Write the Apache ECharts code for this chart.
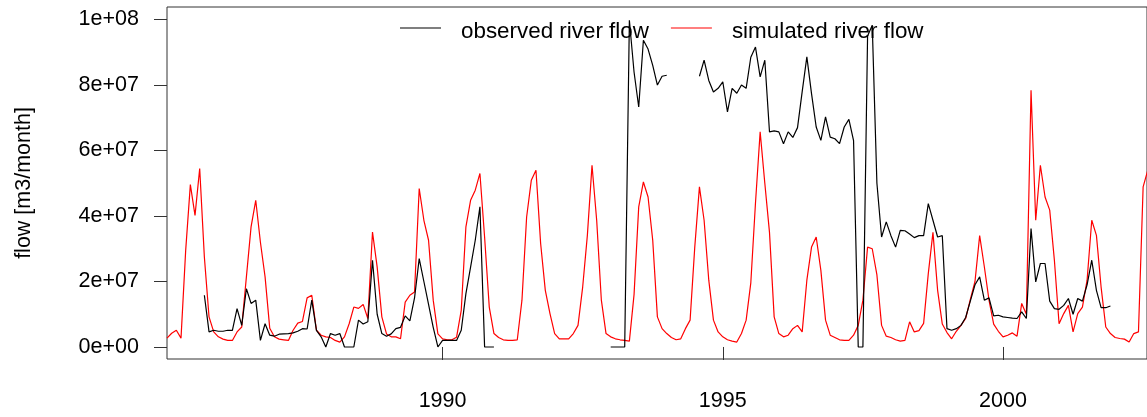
<!DOCTYPE html>
<html>
<head>
<meta charset="utf-8">
<script src="https://cdn.jsdelivr.net/npm/echarts@6/dist/echarts.min.js"></script>
<style>
html,body{margin:0;padding:0;background:#fff;}
#chart{width:1147px;height:417px;}
</style>
</head>
<body>
<div id="chart"></div>
<script>
// Monthly series, first month = Feb 1985. Values in units of 1e7 m3/month.
const startYear = 1985;
const startMonth = 2; // February
const seriesNames = ['observed river flow', 'simulated river flow'];

const simulatedFlow = [
0.27,0.42,0.51,0.27,2.95,4.96,4.02,5.45,2.75,0.92,0.46,0.31,0.24,0.2,0.2,0.46,0.61,2.14,3.67,4.48,
3.2,2.14,0.57,0.31,0.24,0.22,0.2,0.51,0.73,0.78,1.5,1.58,0.51,0.36,0.31,0.29,0.2,0.15,0.31,0.71,
1.22,1.18,1.3,0.87,3.51,2.44,0.92,0.4,0.31,0.31,0.25,1.37,1.58,1.68,4.84,3.87,3.26,1.43,0.4,0.25,
0.22,0.22,0.3,1.12,3.67,4.48,4.79,5.3,3.36,1.22,0.41,0.29,0.22,0.2,0.2,0.22,1.43,3.97,5.09,5.4,
3.16,1.73,1.02,0.41,0.25,0.25,0.25,0.41,0.66,1.83,3.4,5.55,3.87,1.43,0.41,0.31,0.25,0.22,0.2,0.18,
1.6,4.28,5.04,4.58,3.26,0.92,0.56,0.41,0.29,0.22,0.25,0.56,0.82,3.05,4.89,3.87,2.04,0.82,0.46,0.31,
0.22,0.18,0.15,0.41,0.82,1.96,4.4,6.57,5.0,3.5,0.92,0.41,0.31,0.36,0.56,0.66,0.46,2.04,3.05,3.36,
2.34,0.82,0.36,0.29,0.22,0.2,0.2,0.36,0.66,1.43,3.05,3.0,2.2,0.66,0.33,0.29,0.22,0.18,0.2,0.77,
0.46,0.5,0.72,2.24,3.5,1.73,0.7,0.44,0.25,0.48,0.66,0.87,1.45,2.0,3.4,2.45,1.43,0.7,0.48,0.31,
0.36,0.43,0.33,1.33,1.0,7.84,3.87,5.55,4.58,4.18,2.65,0.71,1.02,1.27,0.46,1.02,1.22,2.04,3.87,3.41,
1.83,0.61,0.41,0.29,0.26,0.24,0.15,0.41,0.46,4.89,5.4
];

const observedFlow = [
null,null,null,null,null,null,null,null,1.58,0.46,0.51,0.48,0.48,0.51,0.51,1.17,0.66,1.78,1.33,1.43,
0.2,0.71,0.36,0.33,0.39,0.4,0.41,0.43,0.48,0.56,0.55,1.43,0.51,0.31,0.0,0.41,0.36,0.41,0.0,0.0,
0.0,0.82,0.7,0.77,2.65,1.0,0.41,0.33,0.4,0.56,0.6,0.95,0.8,1.5,2.7,2.0,1.3,0.6,0.0,0.2,
0.2,0.2,0.2,0.51,1.63,2.44,3.26,4.28,0,0,0,null,null,null,null,null,null,null,null,null,
null,null,null,null,null,null,null,null,null,null,null,null,null,null,null,0,0,0,0,9.98,
8.4,7.33,9.37,9.1,8.6,8.0,8.27,8.3,null,null,null,null,null,null,8.27,8.76,8.14,7.79,7.9,8.1,
7.18,7.9,7.75,8.0,7.9,8.85,9.16,8.25,8.76,6.57,6.6,6.57,6.21,6.57,6.4,6.7,7.8,8.86,7.74,6.72,
6.31,7.03,6.41,6.36,6.21,6.72,6.95,6.3,0,0,9.5,9.83,5.0,3.36,3.82,3.4,3.05,3.56,3.55,3.45,
3.34,3.4,3.4,4.38,3.87,3.36,3.4,0.56,0.51,0.56,0.66,0.9,1.4,1.9,2.14,1.43,1.5,0.95,0.97,0.92,
0.9,0.88,0.87,1.07,0.87,3.62,1.99,2.55,2.55,1.4,1.17,1.15,1.27,1.48,1.0,1.48,1.4,1.9,2.65,1.73,
1.2,1.2,1.25,null,null,null,null,null,null,null,null
];

const xTickValues = [1990, 1995, 2000];
const yTickValues = [0, 2e7, 4e7, 6e7, 8e7, 1e8];
const yTickLabels = ['0e+00', '2e+07', '4e+07', '6e+07', '8e+07', '1e+08'];
const yAxisTitle = 'flow [m3/month]';

function timeOf(i) { return startYear + (startMonth - 1 + i) / 12; }
function toPairs(arr) {
  return arr.map((v, i) => [timeOf(i), v === null ? null : v * 1e7]);
}

const FONT = 'Liberation Sans, Arial, sans-serif';
const FS = 21.5;

const chart = echarts.init(document.getElementById('chart'), null, {renderer: 'canvas'});
chart.setOption({
  animation: false,
  backgroundColor: '#ffffff',
  grid: {
    left: 167, right: -3, top: 7, bottom: 58,
    show: true, borderColor: '#333', borderWidth: 1, backgroundColor: 'transparent'
  },
  legend: {
    data: seriesNames,
    left: 400, top: 21,
    padding: 0,
    itemGap: 22,
    itemWidth: 41, itemHeight: 1.2,
    icon: 'rect',
    formatter: name => '{n|' + name + '}',
    textStyle: {
      fontFamily: FONT, fontSize: 22.4, color: '#000',
      rich: { n: { fontFamily: FONT, fontSize: 22.4, color: '#000', padding: [8, 0, 0, 15] } }
    }
  },
  xAxis: {
    type: 'value',
    min: timeOf(0),
    max: timeOf(0) + 982 / 56.16,
    axisLine: { show: false },
    splitLine: { show: false },
    axisTick: { show: true, length: 13, lineStyle: { color: '#333', width: 1 }, customValues: xTickValues },
    axisLabel: {
      customValues: xTickValues,
      margin: 31,
      fontFamily: FONT, fontSize: FS, color: '#000',
      formatter: v => String(Math.round(v))
    }
  },
  yAxis: {
    type: 'value',
    min: -0.367e7,
    max: 10.384e7,
    name: yAxisTitle,
    nameLocation: 'middle',
    nameGap: 132,
    nameRotate: 90,
    nameTextStyle: { fontFamily: FONT, fontSize: FS, color: '#000' },
    axisLine: { show: false },
    splitLine: { show: false },
    axisTick: { show: true, length: 13, lineStyle: { color: '#333', width: 1 }, customValues: yTickValues },
    axisLabel: {
      customValues: yTickValues,
      margin: 28,
      fontFamily: FONT, fontSize: FS, color: '#000',
      formatter: v => {
        const k = yTickValues.findIndex(t => Math.abs(t - v) < 1);
        return k >= 0 ? yTickLabels[k] : '';
      }
    }
  },
  series: [
    {
      name: seriesNames[0], type: 'line', data: toPairs(observedFlow),
      showSymbol: false, symbol: 'none', connectNulls: false,
      lineStyle: { color: '#000000', width: 1.2 }, itemStyle: { color: '#000000' }, z: 3
    },
    {
      name: seriesNames[1], type: 'line', data: toPairs(simulatedFlow),
      showSymbol: false, symbol: 'none', connectNulls: false,
      lineStyle: { color: '#ff0000', width: 1.2 }, itemStyle: { color: '#ff0000' }, z: 2
    }
  ]
});
</script>
</body>
</html>
